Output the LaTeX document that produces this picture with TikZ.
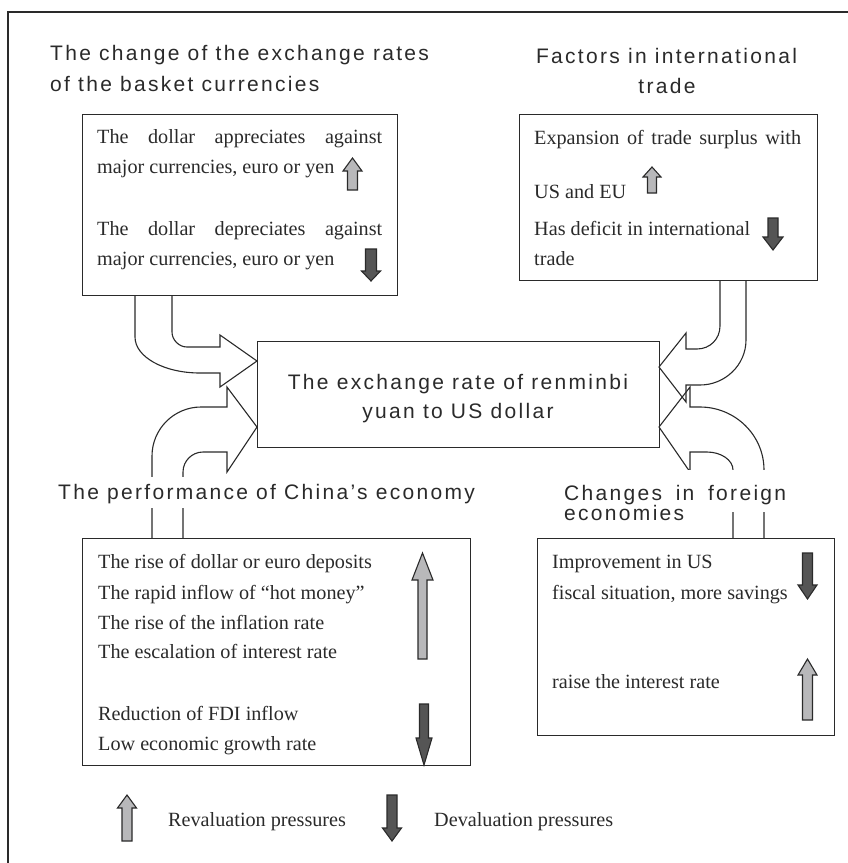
\documentclass[tikz,border=0pt]{standalone}
\usepackage{fontspec}
\setmainfont{Liberation Serif}
\newfontfamily\hfont[LetterSpace=11]{Liberation Sans}
\usetikzlibrary{calc}
\definecolor{lgray}{HTML}{B8B8BA}
\definecolor{dgray}{HTML}{555555}
\definecolor{ink}{HTML}{2A2A2A}
\newcommand\blockarr[7]{\draw[pressarrow, fill=#7] ({#1-#6/2},#2) -- ({#1-#6/2},#3) -- ({#1-#5/2},#3) -- (#1,#4) -- ({#1+#5/2},#3) -- ({#1+#6/2},#3) -- ({#1+#6/2},#2) -- cycle;}
\begin{document}
\begin{tikzpicture}[x=1pt, y=-1pt,
  box/.style={draw=ink, line width=1.2pt, inner sep=0pt},
  head/.style={font=\hfont\fontsize{21}{24}\selectfont, text=ink, inner sep=0pt},
  body/.style={font=\fontsize{20.2}{24}\selectfont, text=ink, inner sep=0pt, anchor=base west},
  bent/.style={draw=ink, line width=1.1pt, line join=miter},
  pressarrow/.style={draw=ink, line width=1.1pt, line join=miter}]
\useasboundingbox (0,0) rectangle (848,863);
% frame
\draw[ink, line width=1.3pt] (848,12) -- (8,12) -- (8,863);

% boxes
\node[box, anchor=north west, minimum width=315pt, minimum height=181pt] (tl) at (82,114) {};
\node[box, anchor=north west, minimum width=298pt, minimum height=166pt] (tr) at (519,114) {};
\node[box, anchor=north west, minimum width=402pt, minimum height=106pt] (ctr) at (257,341) {};
\node[box, anchor=north west, minimum width=388pt, minimum height=227pt] (bl) at (82,538) {};
\node[box, anchor=north west, minimum width=297pt, minimum height=197pt] (br) at (537,538) {};

% bent block arrows
\draw[bent] (135,296) -- (135,337) .. controls (135,357) and (164,373) .. (200,373) -- (220,373) -- (220,387) -- (257,361) -- (220,335) -- (220,347) -- (187,347) .. controls (179,347) and (172,340) .. (172,332) -- (172,296);
\draw[bent] (152,538) -- (152,456) .. controls (152,429) and (174,407) .. (201,407) -- (227,407) -- (227,387) -- (257,427) -- (227,472) -- (227,452) -- (203,452) .. controls (192,452) and (183,461) .. (183,472) -- (183,538);
\draw[bent] (746,281) -- (746,340) .. controls (746,365) and (725,385) .. (700,385) -- (686,385) -- (686,402) -- (659,367) -- (686,333) -- (686,349) -- (697,349) .. controls (710,349) and (720,339) .. (720,326) -- (720,281);
\draw[bent] (764,538) -- (764,470) .. controls (764,435) and (735,407) .. (700,407) -- (690,407) -- (690,387) -- (659,427) -- (690,472) -- (690,452) -- (707,452) .. controls (721,452) and (733,460) .. (733,470) -- (733,538);

% headings
\node[head, anchor=base west] (h1a) at (50,60) {The change of the exchange rates};
\node[head, anchor=base west] (h1b) at (50,91) {of the basket currencies};
\node[head, anchor=base] (h2a) at (666.5,63) {Factors in international};
\node[head, anchor=base] (h2b) at (667,93) {trade};
\node[head, anchor=base] (c1) at (458,389) {The exchange rate of renminbi};
\node[head, anchor=base] (c2) at (458,418) {yuan to US dollar};
\node[head, anchor=base west, fill=white, text height=22pt, text depth=9pt] (h3) at (58,499) {The performance of China’s economy};
\node[head, anchor=base west, fill=white, text height=30pt, text depth=12pt] (h4a) at (564,500) {\makebox[222pt][s]{Changes in foreign}};
\node[head, anchor=base west] (h4b) at (564,520) {economies};

% top-left box text
\node[body] (t1) at (97,143) {\makebox[285pt][s]{The dollar appreciates against}};
\node[body] (t2) at (97,173) {major currencies, euro or yen};
\node[body] (t3) at (97,235) {\makebox[285pt][s]{The dollar depreciates against}};
\node[body] (t4) at (97,265) {major currencies, euro or yen};
\blockarr{352.5}{190}{171}{158}{19}{10}{lgray}
\blockarr{371}{249}{271}{281}{19}{11}{dgray}

% top-right box text
\node[body] (r1) at (534,144) {\makebox[267pt][s]{Expansion of trade surplus with}};
\node[body] (r2) at (534,198) {US and EU};
\node[body] (r3) at (534,235) {Has deficit in international};
\node[body] (r4) at (534,265) {trade};
\blockarr{652}{193}{177}{167}{18}{9}{lgray}
\blockarr{773}{218}{237}{250}{20}{10}{dgray}

% bottom-left box text
\node[body] (b1) at (98,568) {The rise of dollar or euro deposits};
\node[body] (b2) at (98,599) {The rapid inflow of “hot money”};
\node[body] (b3) at (98,629) {The rise of the inflation rate};
\node[body] (b4) at (98,658) {The escalation of interest rate};
\node[body] (b5) at (98,720) {Reduction of FDI inflow};
\node[body] (b6) at (98,750) {Low economic growth rate};
\blockarr{422.5}{659}{580}{553}{21}{9}{lgray}
\blockarr{424}{704}{738}{765}{16}{9}{dgray}

% bottom-right box text
\node[body] (e1) at (552,568) {Improvement in US};
\node[body] (e2) at (552,599) {fiscal situation, more savings};
\node[body] (e3) at (552,688) {raise the interest rate};
\blockarr{807.5}{553}{585}{599}{19}{10}{dgray}
\blockarr{807.5}{720}{675}{659}{19}{10}{lgray}

% legend
\blockarr{127}{841}{808}{795}{19}{10}{lgray}
\node[body] (l1) at (168,826) {Revaluation pressures};
\blockarr{392}{795}{828}{841}{19}{10}{dgray}
\node[body] (l2) at (434,826) {Devaluation pressures};
\end{tikzpicture}
\end{document}
